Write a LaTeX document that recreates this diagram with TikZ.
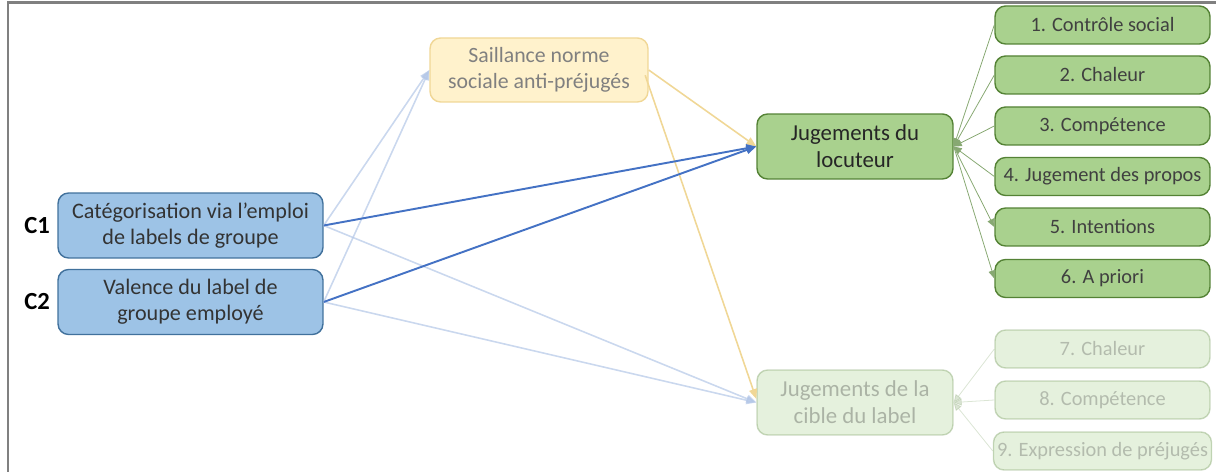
\documentclass[tikz,border=0pt]{standalone}
\usepackage{fontspec}
\setmainfont{Carlito}
\definecolor{BlueFill}{RGB}{157,195,230}
\definecolor{BlueLine}{RGB}{65,113,156}
\definecolor{DarkBlue}{RGB}{68,114,196}
\definecolor{LightBlue}{RGB}{180,199,231}
\definecolor{SandFill}{RGB}{255,242,204}
\definecolor{SandLine}{RGB}{240,215,150}
\definecolor{GreenFill}{RGB}{169,209,142}
\definecolor{GreenLine}{RGB}{84,130,53}
\definecolor{FrameGray}{RGB}{128,128,128}
\usetikzlibrary{arrows.meta, positioning}

\begin{document}
\begin{tikzpicture}[x=0.02cm, y=-0.02cm,
    box/.style={draw, rounded corners=6pt, line width=0.8pt, align=center, inner sep=2pt},
    bluebox/.style={box, fill=BlueFill, draw=BlueLine, minimum width=5.3cm, minimum height=1.3cm, text=black!80, font=\fontsize{12.6}{14.8}\selectfont},
    sandbox/.style={box, fill=SandFill, draw=SandLine, minimum width=4.36cm, minimum height=1.28cm, text=black!50, font=\fontsize{12.4}{14.8}\selectfont},
    judgebox/.style={box, fill=GreenFill, draw=GreenLine, minimum width=3.92cm, minimum height=1.3cm, text=black!85, font=\fontsize{13}{15.5}\selectfont},
    itembox/.style={box, fill=GreenFill, draw=GreenLine, minimum width=4.3cm, minimum height=0.76cm, text=black!75, font=\fontsize{11.6}{13.5}\selectfont},
    codelabel/.style={font=\fontsize{14}{16}\selectfont\bfseries, inner sep=1pt, left=3pt of #1},
    faded/.style={opacity=0.3},
    darklink/.style={DarkBlue, line width=1.1pt, -{Triangle[length=2mm, width=1.6mm]}},
    lightlink/.style={LightBlue, line width=0.9pt, -{Triangle[length=2mm, width=1.6mm]}},
    sandlink/.style={SandLine, line width=0.9pt, -{Triangle[length=2mm, width=1.6mm]}},
    greenlink/.style={GreenLine!70, line width=0.45pt}]
  \useasboundingbox (0,0) rectangle (1216,472);
  % frame
  \draw[FrameGray, line width=1.7pt] (8,472) -- (8,3) -- (1216,3);

  % predictors
  \node[bluebox] (cat) at (190.5,225.5) {Catégorisation via l’emploi\\de labels de groupe};
  \node[bluebox] (val) at (190.5,302) {Valence du label de\\groupe employé};
  \node[codelabel=cat] (c1) {C1};
  \node[codelabel=val] (c2) {C2};

  % mediator
  \node[sandbox] (norme) at (539,70) {Saillance norme\\sociale anti-préjugés};

  % outcomes
  \node[judgebox] (loc) at (855,146.5) {Jugements du\\locuteur};
  \node[judgebox, faded] (cible) at (855,402.5) {Jugements de la\\cible du label};

  \node[itembox] (i1) at (1102.5,25) {1. Contrôle social};
  \node[itembox] (i2) at (1102.5,75) {2. Chaleur};
  \node[itembox] (i3) at (1102.5,126) {3. Compétence};
  \node[itembox] (i4) at (1102.5,176.5) {4. Jugement des propos};
  \node[itembox] (i5) at (1102.5,227) {5. Intentions};
  \node[itembox] (i6) at (1102.5,278.5) {6. A priori};
  \node[itembox, faded] (i7) at (1102.5,349) {7. Chaleur};
  \node[itembox, faded] (i8) at (1102.5,400) {8. Compétence};
  \node[itembox, faded] (i9) at (1102.5,451) {9. Expression de préjugés};

  % paths
  \draw[lightlink, opacity=0.7] (cat.east) -- (norme.west);
  \draw[lightlink, opacity=0.7] (val.east) -- (norme.west);
  \draw[lightlink, opacity=0.7] (cat.east) -- (cible.west);
  \draw[lightlink, opacity=0.7] (val.east) -- (cible.west);
  \draw[sandlink] (norme.east) -- (loc.west);
  \draw[sandlink] ([xshift=-2pt,yshift=-3pt]norme.east) -- ([yshift=2pt]cible.west);
  \draw[darklink] (cat.east) -- (loc.west);
  \draw[darklink] (val.east) -- (loc.west);

  % locuteur items
  \foreach \n in {1,...,4}
    \draw[greenlink, {Triangle[length=1.6mm, width=1.4mm]}-] (loc.east) -- (i\n.west);
  \foreach \n in {5,6}
    \draw[greenlink, -{Triangle[length=1.6mm, width=1.4mm]}] (loc.east) -- (i\n.west);
  % cible items
  \foreach \n in {7,8,9}
    \draw[greenlink, faded, {Triangle[length=1.6mm, width=1.4mm]}-] (cible.east) -- (i\n.west);
\end{tikzpicture}
\end{document}
